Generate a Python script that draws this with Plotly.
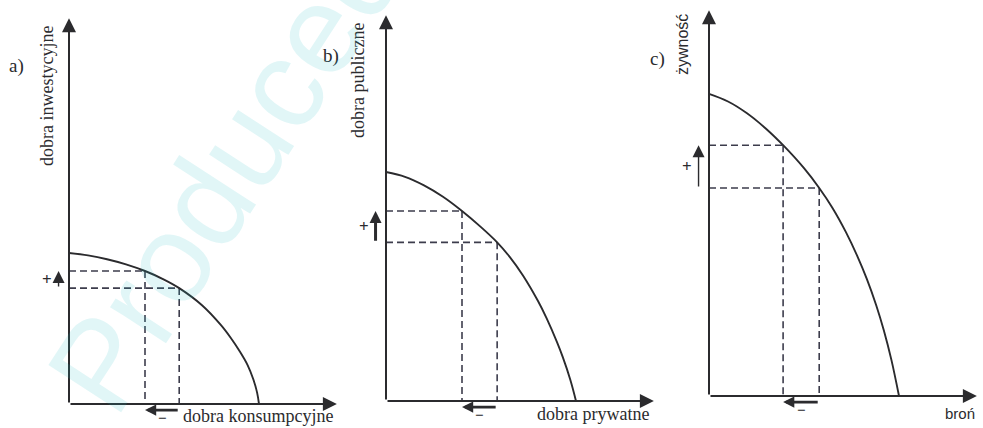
import plotly.graph_objects as go

W, H = 983, 428
PX = 19.0  # pixels per data unit, same in every panel

# ---- data: production possibility frontiers (read as quantities) ----
# a) dobra konsumpcyjne (x) vs dobra inwestycyjne (y)
a_curve_x = [0, 1, 2, 3, 4.0, 5, 5.8, 7, 8, 8.5, 9, 9.4, 9.7, 9.9, 10]
a_curve_y = [7.95, 7.82, 7.62, 7.35, 7.0, 6.55, 6.1, 5.2, 4.15, 3.5, 2.75, 2.05, 1.3, 0.6, 0]
a_pts_x = [4.0, 5.8]
a_pts_y = [7.0, 6.1]

# b) dobra prywatne (x) vs dobra publiczne (y)
b_curve_x = [0, 1, 2, 3, 4.0, 5, 5.85, 6.5, 7.2, 8, 8.45, 9, 9.3, 9.7, 10]
b_curve_y = [12.05, 11.8, 11.35, 10.75, 10.0, 9.15, 8.35, 7.6, 6.62, 5.26, 4.36, 3.1, 2.32, 1.12, 0]
b_pts_x = [4.0, 5.85]
b_pts_y = [10.0, 8.35]

# c) broń (x) vs żywność (y)
c_curve_x = [0, 1, 2, 3, 3.9, 5, 5.8, 6.5, 7.2, 7.8, 8.3, 8.8, 9.2, 9.6, 10]
c_curve_y = [15.9, 15.5, 14.88, 14.07, 13.2, 11.99, 10.95, 9.9, 8.64, 7.38, 6.18, 4.78, 3.46, 1.9, 0]
c_pts_x = [3.9, 5.8]
c_pts_y = [13.2, 10.95]

panel_letters = ["a)", "b)", "c)"]
y_titles = ["dobra inwestycyjne", "dobra publiczne", "żywność"]
x_titles = ["dobra konsumpcyjne", "dobra prywatne", "broń"]

AXIS_X_END = 14.1
AXIS_Y_END = 20.3
X_RANGE = [-1.5, 14.3]
Y_RANGE = [-1.0, 20.6]

# pixel position of each panel origin
origins = [(69, 404), (386, 401), (709, 396)]

panels = [
    (a_curve_x, a_curve_y, a_pts_x, a_pts_y, 1.4),
    (b_curve_x, b_curve_y, b_pts_x, b_pts_y, 3.0),
    (c_curve_x, c_curve_y, c_pts_x, c_pts_y, 1.4),
]

INK = "#2b2b2e"
DASH_INK = "#3c3c4c"
SERIF = "Liberation Serif, Times New Roman, DejaVu Serif, serif"
SANS = "Liberation Sans, Arial, sans-serif"

fig = go.Figure()
annotations = []
layout_axes = {}

for i, ((cx, cy, px_, py_, up_w), (ox, oy)) in enumerate(zip(panels, origins)):
    n = "" if i == 0 else str(i + 1)
    xa, ya = "x" + n, "y" + n
    x0 = (ox + X_RANGE[0] * PX) / W
    x1 = x0 + (X_RANGE[1] - X_RANGE[0]) * PX / W
    y0 = (H - oy + Y_RANGE[0] * PX) / H
    y1 = y0 + (Y_RANGE[1] - Y_RANGE[0]) * PX / H
    common = dict(showgrid=False, zeroline=False, showticklabels=False,
                  showline=False, ticks="", fixedrange=True)
    layout_axes["xaxis" + n] = dict(domain=[x0, x1], range=X_RANGE,
                                    anchor=ya, **common)
    layout_axes["yaxis" + n] = dict(domain=[y0, y1], range=Y_RANGE,
                                    anchor=xa, **common)

    # dashed guides: horizontal from the axis to the point, vertical down to the axis
    for xv, yv in zip(px_, py_):
        fig.add_trace(go.Scatter(x=[0, xv], y=[yv, yv], mode="lines",
                                 line=dict(color=DASH_INK, width=1.6, dash="7px,4px"),
                                 xaxis=xa, yaxis=ya, hoverinfo="skip"))
        fig.add_trace(go.Scatter(x=[xv, xv], y=[yv, 0], mode="lines",
                                 line=dict(color=DASH_INK, width=1.6, dash="7px,4px"),
                                 xaxis=xa, yaxis=ya, hoverinfo="skip"))

    # frontier
    fig.add_trace(go.Scatter(x=cx, y=cy, mode="lines", line_shape="spline",
                             line=dict(color=INK, width=1.9, smoothing=1.0),
                             xaxis=xa, yaxis=ya, hoverinfo="skip"))

    # axes with arrowheads
    for tx, ty in [(AXIS_X_END, 0), (0, AXIS_Y_END)]:
        annotations.append(dict(x=tx, y=ty, ax=0, ay=0, xref=xa, yref=ya,
                                axref=xa, ayref=ya, text="", showarrow=True,
                                arrowhead=2, arrowsize=1.4, arrowwidth=2,
                                arrowcolor=INK))

    # gain on the vertical axis
    annotations.append(dict(x=-0.55, y=py_[0], ax=-0.55, ay=py_[1], xref=xa, yref=ya,
                            axref=xa, ayref=ya, text="", showarrow=True,
                            arrowhead=2, arrowsize=max(0.7, 2.4 / up_w), arrowwidth=up_w,
                            arrowcolor=INK))
    annotations.append(dict(x=-1.15, y=(py_[0] + py_[1]) / 2, xref=xa, yref=ya,
                            text="<b>+</b>", showarrow=False,
                            font=dict(family=SERIF, size=17, color=INK)))
    # loss on the horizontal axis
    annotations.append(dict(x=px_[0], y=-0.32, ax=px_[1], ay=-0.32, xref=xa, yref=ya,
                            axref=xa, ayref=ya, text="", showarrow=True,
                            arrowhead=2, arrowsize=0.8, arrowwidth=2.8,
                            arrowcolor=INK))
    annotations.append(dict(x=(px_[0] + px_[1]) / 2, y=-0.72, xref=xa, yref=ya,
                            text="<b>−</b>", showarrow=False,
                            font=dict(family=SERIF, size=15, color=INK)))


def paper(px, py):
    return px / W, 1 - py / H


# panel letters
for txt, (lx, ly) in zip(panel_letters, [(16, 66), (331, 56), (657, 59)]):
    x, y = paper(lx, ly)
    annotations.append(dict(x=x, y=y, xref="paper", yref="paper", text=txt,
                            showarrow=False, xanchor="center", yanchor="middle",
                            font=dict(family=SERIF, size=19, color=INK)))

# vertical axis titles
for j, (txt, (lx, ly)) in enumerate(zip(y_titles, [(47, 96), (358, 81), (682, 45)])):
    x, y = paper(lx, ly)
    annotations.append(dict(x=x, y=y, xref="paper", yref="paper", text=txt,
                            showarrow=False, textangle=-90,
                            xanchor="center", yanchor="middle",
                            font=dict(family=SANS if j == 2 else SERIF,
                                      size=16 if j == 2 else 18, color=INK)))

# horizontal axis titles
for j, (txt, (lx, ly)) in enumerate(zip(x_titles, [(258, 416), (593, 414), (960, 413)])):
    x, y = paper(lx, ly)
    annotations.append(dict(x=x, y=y, xref="paper", yref="paper", text=txt,
                            showarrow=False, xanchor="center", yanchor="middle",
                            font=dict(family=SANS if j == 2 else SERIF,
                                      size=15 if j == 2 else 18, color=INK)))

# faint diagonal watermark
wx, wy = paper(226, 172)
annotations.append(dict(x=wx, y=wy, xref="paper", yref="paper", text="Produced",
                        showarrow=False, textangle=-57,
                        xanchor="center", yanchor="middle",
                        font=dict(family=SANS, size=126, color="rgba(40,190,200,0.14)")))

fig.update_layout(
    width=W, height=H,
    margin=dict(l=0, r=0, t=0, b=0),
    paper_bgcolor="white", plot_bgcolor="rgba(0,0,0,0)",
    showlegend=False,
    annotations=annotations,
    **layout_axes,
)

fig.write_html("out.html")
